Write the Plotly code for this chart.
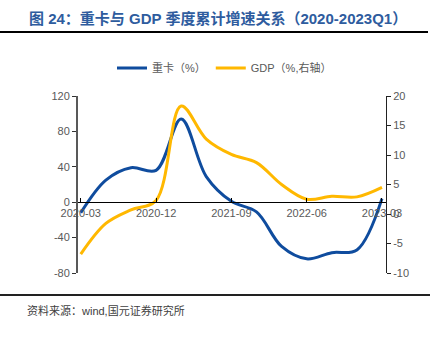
import plotly.graph_objects as go

quarters = ["2020-03", "2020-06", "2020-09", "2020-12", "2021-03", "2021-06", "2021-09",
            "2021-12", "2022-03", "2022-06", "2022-09", "2022-12", "2023-03"]
truck = [-12, 25, 39, 36, 94, 29, 1, -11, -50, -64, -57, -54, 4]
gdp = [-6.8, -1.6, 0.7, 2.3, 18.3, 12.7, 10.1, 8.7, 5.0, 2.5, 3.0, 2.9, 4.5]
tick_labels = ["2020-03", "2020-12", "2021-09", "2022-06", "2023-03"]
left_ticks = [-80, -40, 0, 40, 80, 120]
right_ticks = [-10, -5, 0, 5, 10, 15, 20]

W, H = 433, 341
L, R, T, B = 77, 386, 96, 273

def px2x(p):
    return (p - L) / (R - L)

def px2y(p):
    return (B - p) / (B - T)

BLUE = "#0F4C9E"
YEL = "#FFB800"
GREY = "#595959"
FONT = "Liberation Sans, Noto Sans CJK SC, sans-serif"

fig = go.Figure()
fig.add_trace(go.Scatter(x=quarters, y=truck, name="重卡（%）", mode="lines",
                         line=dict(color=BLUE, width=3, shape="spline", smoothing=1.0),
                         yaxis="y"))
fig.add_trace(go.Scatter(x=quarters, y=gdp, name="GDP（%,右轴）", mode="lines",
                         line=dict(color=YEL, width=3, shape="spline", smoothing=1.0),
                         yaxis="y2"))

fig.update_layout(
    width=W, height=H,
    margin=dict(l=L, r=W - R, t=T, b=H - B, pad=0),
    paper_bgcolor="white", plot_bgcolor="white",
    font=dict(family=FONT, size=11, color=GREY),
    showlegend=True,
    legend=dict(orientation="h", x=px2x(112), y=px2y(68), xanchor="left", yanchor="middle",
                font=dict(size=11, color=GREY), itemwidth=30, bgcolor="rgba(0,0,0,0)"),
    xaxis=dict(type="category", range=[-0.15, 12.16], anchor="free", position=0.4,
               showline=True, linecolor="black", linewidth=1.3,
               ticks="inside", ticklen=4, tickcolor="black",
               tickmode="array", tickvals=tick_labels, ticktext=tick_labels,
               showgrid=False, zeroline=False, tickfont=dict(size=11, color=GREY)),
    yaxis=dict(range=[-80, 120], anchor="free", position=0,
               tickmode="array", tickvals=left_ticks, ticktext=[str(v) for v in left_ticks],
               showline=True, linecolor=GREY, linewidth=2,
               ticks="outside", ticklen=4, tickcolor="#333",
               showgrid=False, zeroline=False, tickfont=dict(size=11, color=GREY)),
    yaxis2=dict(range=[-10, 20], anchor="free", position=1,
                tickmode="array", tickvals=right_ticks, ticktext=[str(v) for v in right_ticks],
                overlaying="y", side="right",
                showline=True, linecolor="#222", linewidth=1,
                ticks="outside", ticklen=4, tickcolor="#222",
                showgrid=False, zeroline=False, tickfont=dict(size=11, color=GREY)),
)

fig.add_annotation(text="<b>图 24：重卡与 GDP 季度累计增速关系（2020-2023Q1）</b>",
                   xref="paper", yref="paper", x=px2x(27), y=px2y(19),
                   xanchor="left", yanchor="middle", showarrow=False,
                   font=dict(family=FONT, size=15, color="#2E5C9E"))
fig.add_annotation(text="资料来源：wind,国元证券研究所",
                   xref="paper", yref="paper", x=px2x(25), y=px2y(310),
                   xanchor="left", yanchor="middle", showarrow=False,
                   font=dict(family=FONT, size=11, color="#404040"))
fig.add_shape(type="line", xref="paper", yref="paper",
              x0=px2x(0), x1=px2x(428), y0=px2y(32), y1=px2y(32),
              line=dict(color="black", width=2))
fig.add_shape(type="line", xref="paper", yref="paper",
              x0=px2x(0), x1=px2x(430), y0=px2y(295), y1=px2y(295),
              line=dict(color="#222", width=2))

fig.write_html("out.html")
